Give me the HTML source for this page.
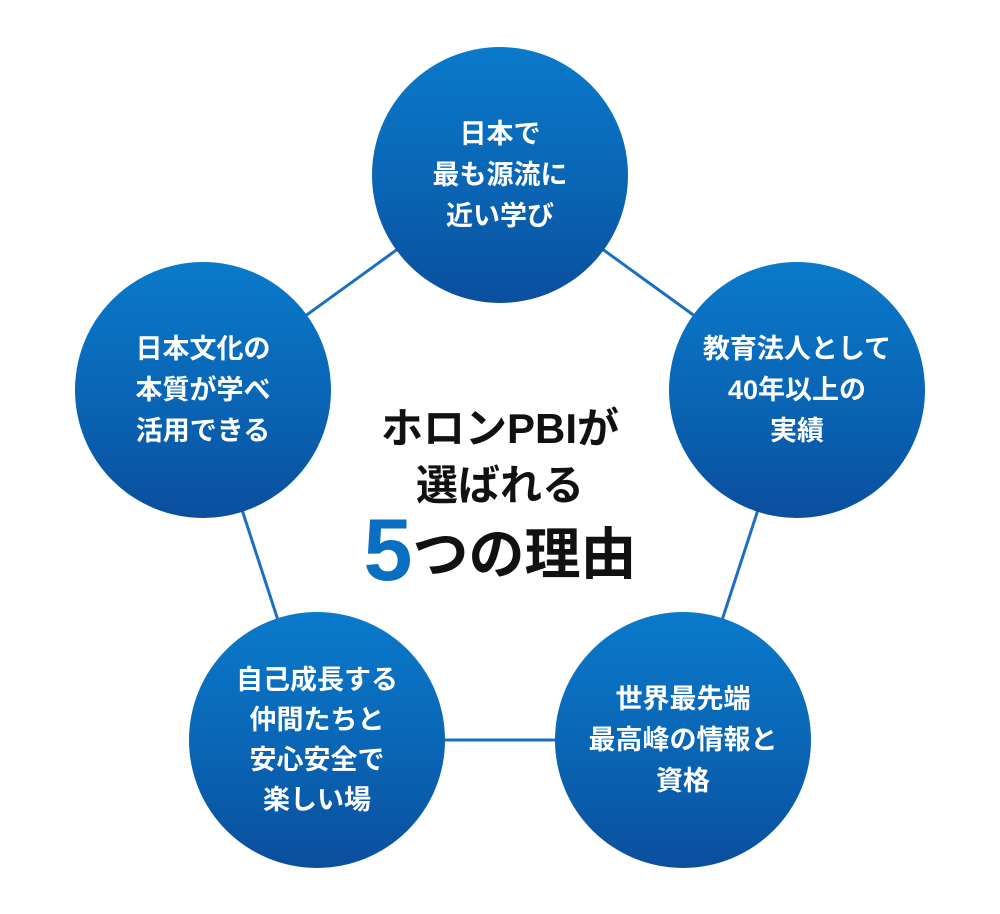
<!DOCTYPE html>
<html><head><meta charset="utf-8"><style>
body{margin:0;width:1000px;height:914px;background:#fff;position:relative;overflow:hidden;font-family:"Liberation Sans","Noto Sans CJK JP",sans-serif}
.c{position:absolute;width:256px;height:256px;border-radius:50%;background:linear-gradient(180deg,#0a7acb 0%,#0a64b4 55%,#0a4f9e 100%);color:#fff;font-weight:bold;font-size:27px;line-height:41px;display:flex;align-items:center;justify-content:center;text-align:center;white-space:nowrap}
.t{position:absolute;left:0;width:1000px;text-align:center;font-weight:bold;color:#111;white-space:nowrap}
</style></head><body>
<svg width="1000" height="914" style="position:absolute;left:0;top:0">
<polygon points="500,175 797,390 683,740 317,740 203,390" fill="none" stroke="#1a6fc0" stroke-width="3"/>
</svg>
<div class="c" style="left:372px;top:47px">日本で<br>最も源流に<br>近い学び</div>
<div class="c" style="left:669px;top:262px">教育法人として<br>40年以上の<br>実績</div>
<div class="c" style="left:555px;top:612px">世界最先端<br>最高峰の情報と<br>資格</div>
<div class="c" style="left:189px;top:612px;line-height:40px">自己成長する<br>仲間たちと<br>安心安全で<br>楽しい場</div>
<div class="c" style="left:75px;top:262px">日本文化の<br>本質が学べ<br>活用できる</div>
<div class="t" style="top:404px;font-size:42px;line-height:50px">ホロンPBIが</div>
<div class="t" style="top:461px;font-size:42px;line-height:50px">選ばれる</div>
<div class="t" style="top:508px;font-size:56px;line-height:84px"><span style="color:#0a6fc2;font-size:88px;vertical-align:-6px">5</span>つの理由</div>
</body></html>
